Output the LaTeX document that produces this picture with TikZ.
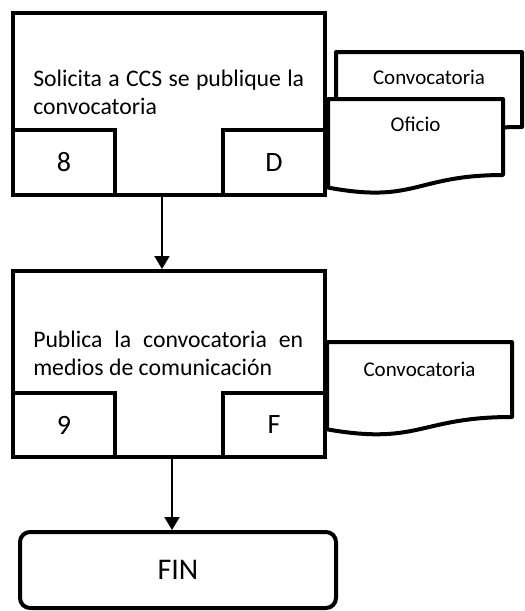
\documentclass[tikz,border=0pt]{standalone}
\usepackage{fontspec}
\setmainfont{Carlito}
\usetikzlibrary{arrows.meta,positioning,calc}
\tikzstyle{arrow} = [line width=1.5pt,-{Triangle[length=9.75pt,width=11.25pt]}]

% document symbol: left, top, width, height (in px units)
\newcommand{\docshape}[4]{%
  \draw[line width=3pt,fill=white,line join=round] (#1,#2) -- (#1+#3,#2) -- (#1+#3,#2+0.802*#4)
    .. controls (#1+0.5*#3,#2+0.802*#4) and (#1+0.5*#3,#2+1.107*#4) .. (#1,#2+0.934*#4) -- cycle;}

\begin{document}
\begin{tikzpicture}[x=0.75pt,y=-0.75pt,
    actbox/.style={rectangle,draw,line width=3pt,minimum width=234pt},
    cellbox/.style={rectangle,draw,line width=3pt,minimum width=76.5pt,font=\fontsize{21pt}{25pt}\selectfont},
    acttext/.style={anchor=base west,inner sep=0pt,font=\fontsize{17.8pt}{20.5pt}\selectfont},
    doctext/.style={anchor=base,inner sep=0pt,font=\fontsize{15.75pt}{19pt}\selectfont},
    endbox/.style={rectangle,draw,line width=3pt,rounded corners=7.5pt,minimum width=237pt,minimum height=57pt,font=\fontsize{22.5pt}{27pt}\selectfont}]
    \useasboundingbox (0,0) rectangle (525,611);

    % step 8
    \node[actbox,minimum height=136.5pt] (act8) at (169,104) {};
    \node[cellbox,minimum height=48.75pt] (num8) at (64,162.5) {8};
    \node[cellbox,minimum height=48.75pt] (area8) at (274,162.5) {D};
    \node[acttext] (txt8) at (33,86.7) {\parbox[t]{203.25pt}{Solicita a CCS se publique la\linebreak convocatoria}};

    % documents of step 8
    \docshape{336}{52}{186}{93.5}
    \node[doctext] (conv8) at (429,84) {Convocatoria};
    \docshape{328}{99}{175}{94.8}
    \node[doctext] (ofi8) at (415.5,131.7) {Oficio};

    % step 9
    \node[actbox,minimum height=139.5pt] (act9) at (169,364) {};
    \node[cellbox,minimum height=48pt] (num9) at (64,425) {9};
    \node[cellbox,minimum height=48pt] (area9) at (274,425) {F};
    \node[acttext] (txt9) at (33,347.7) {\parbox[t]{202.5pt}{Publica la convocatoria en\linebreak medios de comunicación}};

    % document of step 9
    \docshape{327}{342}{185}{93.5}
    \node[doctext] (conv9) at (419.5,376) {Convocatoria};

    % end
    \node[endbox] (fin) at (178,570) {FIN};

    % 8 -> 9 -> FIN
    \draw[arrow] ([xshift=-5.25pt]act8.south) -- ([xshift=-5.25pt]act9.north);
    \draw[arrow] ([xshift=2.25pt]act9.south) -- ([xshift=-4.5pt]fin.north);
\end{tikzpicture}
\end{document}
